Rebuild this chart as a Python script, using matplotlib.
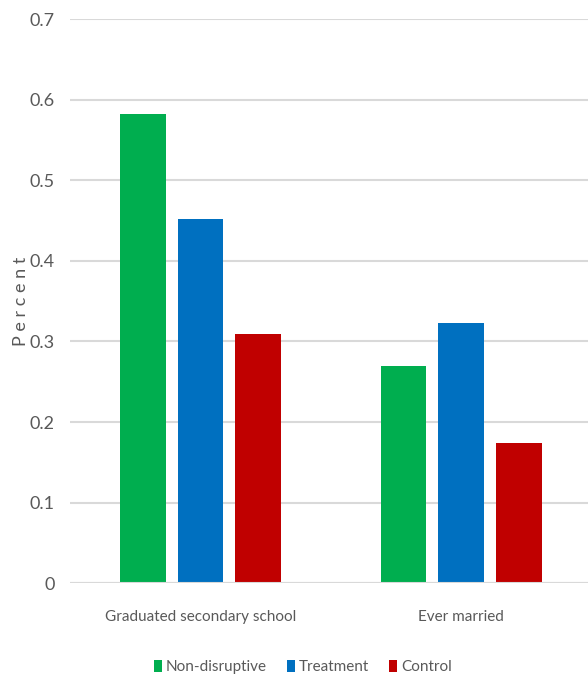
import matplotlib
matplotlib.use("Agg")
import matplotlib.pyplot as plt
import numpy as np

categories = ["Graduated secondary school", "Ever married"]
series_names = ["Non-disruptive", "Treatment", "Control"]
non_disruptive = [0.582, 0.270]
treatment = [0.452, 0.323]
control = [0.309, 0.174]
colors = ["#00AE4F", "#0070C0", "#C00000"]
yticks = [0, 0.1, 0.2, 0.3, 0.4, 0.5, 0.6, 0.7]
ytick_labels = ["0", "0.1", "0.2", "0.3", "0.4", "0.5", "0.6", "0.7"]

plt.rcParams['font.family'] = ['Liberation Sans Narrow', 'Lato', 'DejaVu Sans']

fig = plt.figure(figsize=(5.88, 6.79), dpi=100)
ax = fig.add_axes([70/588, 0.141, 1 - 70/588, 0.831])

x = np.arange(len(categories))
width = 0.176
step = 0.222
for i, (vals, name, c) in enumerate(zip([non_disruptive, treatment, control], series_names, colors)):
    ax.bar(x + (i - 1) * step, vals, width, color=c, label=name, zorder=3)

ax.set_ylim(0, 0.7)
ax.set_xlim(-0.5, 1.485)
ax.set_yticks(yticks)
ax.set_yticklabels(ytick_labels)
ax.set_xticks(x)
ax.set_xticklabels(categories)
ax.yaxis.grid(True, color="#D9D9D9", linewidth=1.5, zorder=0)
for s in ax.spines.values():
    s.set_visible(False)
ax.axhline(0, color="#D9D9D9", linewidth=1.5, zorder=4)
ax.tick_params(axis='both', length=0, colors="#595959", labelsize=13)
ax.tick_params(axis='y', pad=11)
ax.tick_params(axis='x', pad=19, labelsize=11)

ax.set_ylabel("P e r c e n t", color="#595959", fontsize=13)
ax.yaxis.set_label_coords(-0.08, 0.5)

leg = fig.legend(loc='center', ncol=3, frameon=False,
                 fontsize=11, handlelength=0.55, handleheight=0.85, handletextpad=0.25,
                 columnspacing=1.3, labelcolor="#595959")
leg.set_bbox_to_anchor((0.515, (679 - 667) / 679), transform=fig.transFigure)

fig.savefig("out.png", dpi=100)
